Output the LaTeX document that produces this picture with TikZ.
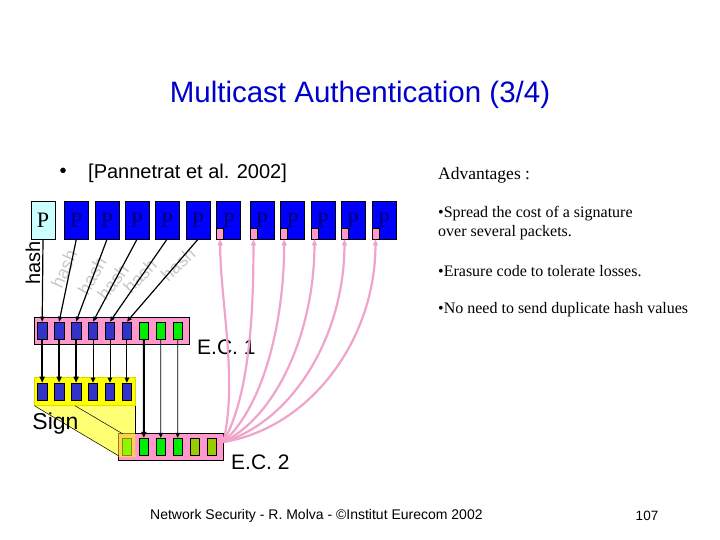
\documentclass[tikz,border=0pt]{standalone}
\usepackage{fontspec}
\setmainfont{Liberation Serif}
\setsansfont{Liberation Sans}
\usetikzlibrary{arrows.meta}
\definecolor{titleblue}{RGB}{0,0,204}
\definecolor{pblue}{RGB}{0,0,255}
\definecolor{ptext}{RGB}{0,0,110}
\definecolor{pcyan}{RGB}{204,255,255}
\definecolor{sqblue}{RGB}{51,51,204}
\definecolor{ecpink}{RGB}{255,153,204}
\definecolor{fanpink}{RGB}{240,164,204}
\definecolor{sqgreen}{RGB}{0,238,0}
\definecolor{sqolive}{RGB}{153,204,0}
\definecolor{hashgray}{RGB}{200,200,200}
\definecolor{signyellow}{RGB}{255,255,0}
\begin{document}
\begin{tikzpicture}[x=1pt,y=-1pt,
  pkt/.style={draw=black, line width=0.6pt, fill=pblue, minimum width=24pt, minimum height=38pt, inner sep=0pt, text=ptext, font=\fontsize{22}{22}\selectfont},
  pktc/.style={pkt, fill=pcyan, text=black},
  marker/.style={draw=black, line width=0.5pt, fill=ecpink, minimum width=7pt, minimum height=11pt, inner sep=0pt},
  ecbox/.style={draw=black, line width=0.6pt, fill=ecpink, inner sep=0pt},
  sq/.style={draw=black, line width=0.6pt, minimum width=9.5pt, minimum height=17pt, inner sep=0pt},
  hasharrow/.style={line width=1.2pt, -{Triangle[length=5pt,width=4pt]}},
  thickarrow/.style={line width=2pt, -{Triangle[length=6pt,width=5pt]}},
  thinarrow/.style={line width=0.9pt, -{Triangle[length=5pt,width=4.5pt]}},
  fan/.style={draw=fanpink, line width=2.2pt, -{Triangle[length=6pt,width=5pt]}},
  hashlbl/.style={text=hashgray, font=\sffamily\fontsize{18}{18}\selectfont, inner sep=0pt},
  lbl/.style={font=\sffamily\fontsize{21}{21}\selectfont, inner sep=0pt},
  adv/.style={font=\fontsize{16}{19}\selectfont, inner sep=0pt, anchor=west, align=left}
]
\useasboundingbox (0,0) rectangle (720,540);
\fill[white] (0,0) rectangle (720,540);

% title
\node[font=\sffamily\fontsize{29.5}{30}\selectfont, text=titleblue, inner sep=0pt] (title) at (360,95) {Multicast Authentication (3/4)};
\node[font=\sffamily\fontsize{20}{20}\selectfont, inner sep=0pt] (bul) at (63,173) {•};
\node[font=\sffamily\fontsize{20}{20}\selectfont, inner sep=0pt, anchor=west] (ref) at (88,173) {[Pannetrat et al. 2002]};

% advantages
\node[adv, font=\fontsize{17.5}{19}\selectfont] (advt) at (438,175) {Advantages :};
\node[adv] (adv1) at (438,223.5) {•Spread the cost of a signature\\over several packets.};
\node[adv] (adv2) at (438,271) {•Erasure code to tolerate losses.};
\node[adv] (adv3) at (438,310) {•No need to send duplicate hash values};

% packets
\node[pktc] (p0) at (43,220) {P};
\foreach \n/\x in {1/76.3,2/107,3/137,4/167,5/198,6/228.7,7/262,8/292.7,9/323,10/353,11/384}
  \node[pkt] (p\n) at (\x,220) {P};
\foreach \n in {6,...,11}
  \node[marker, anchor=south west] (m\n) at (p\n.south west) {};

% E.C. 1
\node[ecbox, minimum width=155pt, minimum height=27pt] (ec1) at (111.8,330.5) {};
\foreach \k/\c in {1/sqblue,2/sqblue,3/sqblue,4/sqblue,5/sqblue,6/sqblue,7/sqgreen,8/sqgreen,9/sqgreen}
  \node[sq, fill=\c] (a\k) at ({42.2+16.94*(\k-1)},330.5) {};
\node[lbl, anchor=west] (ec1l) at (197,347) {E.C. 1};

% sign row
\node[draw=signyellow!85!black, line width=0.5pt, fill=signyellow, minimum width=100.7pt, minimum height=28.4pt, inner sep=0pt] (sg) at (84.65,391.5) {};
\foreach \k in {1,...,6}
  \node[sq, fill=sqblue] (b\k) at ({42.2+16.94*(\k-1)},391.5) {};

% E.C. 2
\node[ecbox, minimum width=105pt, minimum height=26.7pt] (ec2) at (170.8,446.65) {};
\foreach \k/\c in {1/sqgreen,2/sqgreen,3/sqgreen,4/sqgreen,5/sqolive,6/sqolive}
  \node[sq, fill=\c] (c\k) at ({126.9+16.94*(\k-1)},446.65) {};
\node[lbl, anchor=west] (ec2l) at (231,462) {E.C. 2};

% hash labels (under the lines)
\node[font=\sffamily\fontsize{20}{20}\selectfont, inner sep=0pt, rotate=90] (hv) at (33,263) {hash};
\node[hashlbl, rotate=66] (h1) at (64,269) {hash};
\node[hashlbl, rotate=60] (h2) at (92,276) {hash};
\node[hashlbl, rotate=53] (h3) at (113,282) {hash};
\node[hashlbl, rotate=46] (h4) at (140,276) {hash};
\node[hashlbl, rotate=43] (h5) at (178,264) {hash};

% hash arrows
\draw[hasharrow] (p0.south) -- (a1.north);
\draw[hasharrow] (p1.south) -- (a2.north);
\draw[hasharrow] (p2.south) -- (a3.north);
\draw[hasharrow] (p3.south) -- (a4.north);
\draw[hasharrow] (p4.south) -- (a5.north);
\draw[hasharrow] (p5.south) -- (a6.north);

% EC1 -> sign
\draw[thickarrow] (a1.south) -- (b1.north);
\draw[thickarrow] (a2.south) -- (b2.north);
\draw[thickarrow] (a3.south) -- (b3.north);
\draw[thinarrow] (a4.south) -- (b4.north);
\draw[thinarrow] (a5.south) -- (b5.north);
\draw[thinarrow] (a6.south) -- (b6.north);
% EC1 -> EC2
\draw[thickarrow] (a7.south) -- (c2.north);
\draw[thinarrow] (a8.south) -- (c3.north);
\draw[thinarrow] (a9.south) -- (c4.north);

% sign funnel
\coordinate (fl) at (34.3,405.7);
\coordinate (fr) at (135,405.7);
\fill[signyellow, opacity=0.55] (fl) -- (fr) -- (135,457) -- (119,457) -- cycle;
\draw[line width=0.5pt] (fl) -- (119,456);
\draw[line width=0.5pt] (75,405.7) -- (123,434);
\draw[line width=0.5pt] (fr) -- (135,433.5);
\node[font=\sffamily\fontsize{23}{23}\selectfont, inner sep=0pt] (sign) at (55.5,424) {Sign};

% fan from EC2 to packet markers
\coordinate (fs) at (223.3,442);
\draw[fan] (fs) .. controls (238,380) and (220.2,300) .. (m6.south);
\draw[fan] (fs) .. controls (250,395) and (253.5,310) .. (m7.south);
\draw[fan] (fs) .. controls (265,405) and (284.2,318) .. (m8.south);
\draw[fan] (fs) .. controls (280,414) and (314.5,326) .. (m9.south);
\draw[fan] (fs) .. controls (295,420) and (344.5,333) .. (m10.south);
\draw[fan] (fs) .. controls (310,428) and (375.5,340) .. (m11.south);

% footer
\node[font=\sffamily\fontsize{14}{14}\selectfont, inner sep=0pt, anchor=west] (foot) at (150,516) {Network Security - R. Molva - ©Institut Eurecom 2002};
\node[font=\sffamily\fontsize{13.5}{14}\selectfont, inner sep=0pt] (pg) at (647,516) {107};
\end{tikzpicture}
\end{document}
